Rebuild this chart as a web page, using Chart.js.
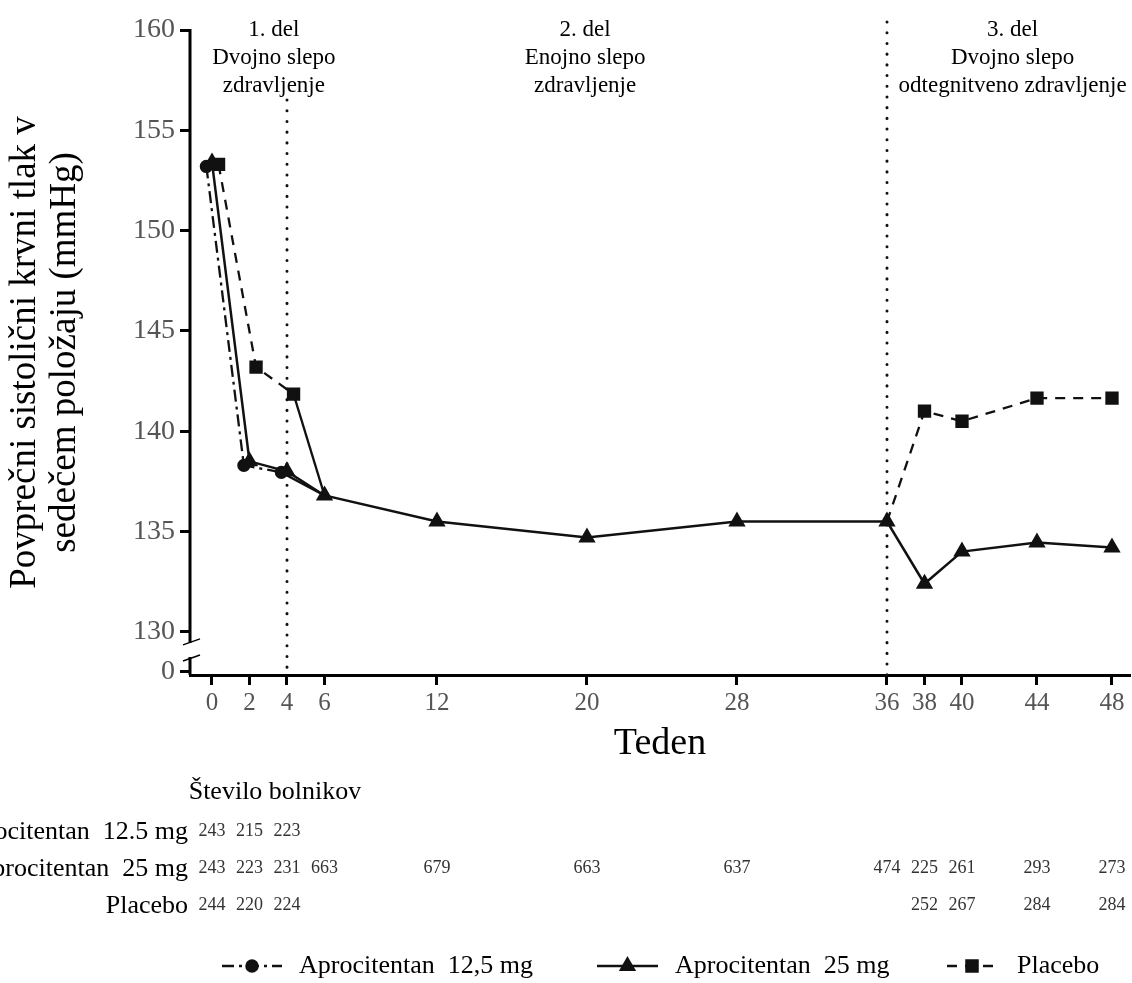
<!DOCTYPE html>
<html>
<head>
<meta charset="utf-8">
<script src="https://cdn.jsdelivr.net/npm/chart.js@4"></script>
<style>
html, body { margin: 0; padding: 0; background: #fff; overflow: hidden; }
canvas { display: block; }
</style>
</head>
<body>
<canvas id="myChart" width="1132" height="983"></canvas>
<script>
// podatki
const weeks = [0, 2, 4, 6, 12, 20, 28, 36, 38, 40, 44, 48];
const apro25 = [153.4, 138.5, 138.0, 136.8, 135.5, 134.7, 135.5, 135.5, 132.4, 134.0, 134.45, 134.2];
const apro125Weeks = [0, 2, 4];
const apro125 = [153.2, 138.3, 137.95];
const placeboWeeks = [0, 2, 4, 38, 40, 44, 48];
const placebo = [153.3, 143.2, 141.85, 141.0, 140.5, 141.65, 141.65];

const yTicks = [130, 135, 140, 145, 150, 155, 160];
const yBreak = 128; // tu stoji "0" pod prelomom osi
const partLines = [4, 36];

const parts = [
  {week: 3.3, lines: ["1. del", "Dvojno slepo", "zdravljenje"]},
  {week: 19.9, lines: ["2. del", "Enojno slepo", "zdravljenje"]},
  {week: 42.7, lines: ["3. del", "Dvojno slepo", "odtegnitveno zdravljenje"]}
];

// stevilo bolnikov
const tableTitle = "Število bolnikov";
const rowLabels = ["Aprocitentan  12.5 mg", "Aprocitentan  25 mg", "Placebo"];
const n125 = [243, 215, 223, null, null, null, null, null, null, null, null, null];
const n25 = [243, 223, 231, 663, 679, 663, 637, 474, 225, 261, 293, 273];
const nPlacebo = [244, 220, 224, null, null, null, null, null, 252, 267, 284, 284];

const legendLabels = ["Aprocitentan  12,5 mg", "Aprocitentan  25 mg", "Placebo"];

const FONT = "'Liberation Serif', 'DejaVu Serif', serif";
const dash125 = [12, 5, 3, 5];
const dashPlacebo = [10, 8];

// v 1. delu so tocke malo zamaknjene
const shift125 = -0.3;
const shiftPlacebo = 0.35;

var data125 = apro125Weeks.map((w, i) => ({x: w + shift125, y: apro125[i]}));
data125.push({x: weeks[3], y: apro25[3]});

var dataPlacebo = [];
for (let i = 0; i < 3; i++) dataPlacebo.push({x: placeboWeeks[i] + shiftPlacebo, y: placebo[i]});
dataPlacebo.push({x: weeks[3], y: apro25[3]});
dataPlacebo.push({x: 20, y: null});
dataPlacebo.push({x: weeks[7], y: apro25[7]});
for (let i = 3; i < placeboWeeks.length; i++) dataPlacebo.push({x: placeboWeeks[i], y: placebo[i]});

var data25 = weeks.map((w, i) => ({x: w, y: apro25[i]}));

const extraPlugin = {
  id: "extra",
  beforeDatasetsDraw(chart) {
    const ctx = chart.ctx, x = chart.scales.x, y = chart.scales.y;
    ctx.save();
    ctx.strokeStyle = "#111";
    ctx.lineWidth = 3;
    ctx.lineCap = "round";
    ctx.setLineDash([0.1, 10.6]);
    partLines.forEach((w, i) => {
      const px = x.getPixelForValue(w);
      ctx.beginPath();
      ctx.moveTo(px, i == 0 ? 100 : 22);
      ctx.lineTo(px, chart.chartArea.bottom);
      ctx.stroke();
    });
    ctx.restore();
  },
  afterDraw(chart) {
    const ctx = chart.ctx, x = chart.scales.x, y = chart.scales.y;
    const left = chart.chartArea.left;
    ctx.save();
    // y os s prelomom
    ctx.strokeStyle = "#000";
    ctx.lineWidth = 3;
    ctx.beginPath();
    ctx.moveTo(left, y.getPixelForValue(160) - 1);
    ctx.lineTo(left, y.getPixelForValue(129.45));
    ctx.moveTo(left, y.getPixelForValue(128.75));
    ctx.lineTo(left, chart.chartArea.bottom);
    ctx.stroke();
    ctx.lineWidth = 1.5;
    ctx.beginPath();
    let b1 = y.getPixelForValue(129.45), b2 = y.getPixelForValue(128.75);
    ctx.moveTo(left - 7, b1 + 2); ctx.lineTo(left + 10, b1 - 4);
    ctx.moveTo(left - 7, b2 + 4); ctx.lineTo(left + 10, b2 - 2);
    ctx.stroke();

    // oznake delov
    ctx.fillStyle = "#000";
    ctx.font = "23px " + FONT;
    ctx.textAlign = "center";
    ctx.textBaseline = "middle";
    parts.forEach(p => {
      p.lines.forEach((t, j) => ctx.fillText(t, x.getPixelForValue(p.week), 30 + j * 28));
    });

    // tabela
    ctx.font = "26px " + FONT;
    ctx.fillText(tableTitle, 275, 792);
    ctx.textAlign = "right";
    rowLabels.forEach((t, i) => ctx.fillText(t, 188, 832 + i * 37));
    ctx.textAlign = "center";
    ctx.font = "18px " + FONT;
    ctx.fillStyle = "#333";
    [n125, n25, nPlacebo].forEach((row, i) => {
      row.forEach((n, j) => {
        if (n != null) ctx.fillText(n, x.getPixelForValue(weeks[j]), 831 + i * 37);
      });
    });

    // legenda
    const ly = 966;
    const items = [
      {x1: 222, x2: 282, tx: 299, dash: dash125, style: "circle", r: 5.5},
      {x1: 597, x2: 658, tx: 675, dash: [], style: "triangle", r: 7.5},
      {x1: 947, x2: 997, tx: 1017, dash: dashPlacebo, style: "rect", r: 7.8}
    ];
    items.forEach((it, i) => {
      ctx.strokeStyle = "#111";
      ctx.lineWidth = 2.5;
      ctx.lineCap = "butt";
      ctx.setLineDash(it.dash);
      ctx.beginPath();
      ctx.moveTo(it.x1, ly);
      ctx.lineTo(it.x2, ly);
      ctx.stroke();
      ctx.setLineDash([]);
      ctx.fillStyle = "#111";
      Chart.helpers.drawPoint(ctx, {pointStyle: it.style, radius: it.r, borderWidth: 1}, (it.x1 + it.x2) / 2, ly);
      ctx.fillStyle = "#000";
      ctx.font = "26px " + FONT;
      ctx.textAlign = "left";
      ctx.fillText(legendLabels[i], it.tx, ly);
    });
    ctx.restore();
  }
};

var chart = new Chart("myChart", {
  type: "line",
  data: {
    datasets: [{
      label: legendLabels[2],
      data: dataPlacebo,
      borderColor: "#111",
      borderWidth: 2.3,
      pointStyle: "rect",
      pointRadius: ctx => (ctx.dataIndex == 3 || ctx.dataIndex == 5) ? 0 : 7.8,
      pointBackgroundColor: "#111",
      pointBorderColor: "#111",
      spanGaps: false,
      segment: {
        borderDash: ctx => ctx.p0DataIndex == 2 ? [] : dashPlacebo
      }
    }, {
      label: legendLabels[0],
      data: data125,
      borderColor: "#111",
      borderWidth: 2.3,
      pointStyle: "circle",
      pointRadius: ctx => ctx.dataIndex < 3 ? 5.5 : 0,
      pointBackgroundColor: "#111",
      pointBorderColor: "#111",
      segment: {
        borderDash: ctx => ctx.p0DataIndex >= 2 ? [] : dash125
      }
    }, {
      label: legendLabels[1],
      data: data25,
      borderColor: "#111",
      borderWidth: 2.5,
      pointStyle: "triangle",
      pointRadius: 7.5,
      pointBackgroundColor: "#111",
      pointBorderColor: "#111"
    }]
  },
  options: {
    responsive: false,
    animation: false,
    layout: {autoPadding: false, padding: {top: 30, right: 2, bottom: 213, left: 0}},
    plugins: {
      legend: {display: false},
      tooltip: {enabled: false}
    },
    elements: {line: {tension: 0}},
    scales: {
      x: {
        type: "linear",
        min: -1.173,
        max: 48.96,
        afterFit: s => { s.height = 95; },
        afterBuildTicks: s => { s.ticks = weeks.map(v => ({value: v})); },
        border: {display: true, color: "#000", width: 3},
        grid: {drawOnChartArea: false, drawTicks: true, tickLength: 10, tickWidth: 3, color: "#000"},
        ticks: {color: "#555", font: {family: FONT, size: 25}, padding: 3, maxRotation: 0, autoSkip: false},
        title: {display: true, text: "Teden", color: "#000", font: {family: FONT, size: 38, lineHeight: 1.2}, padding: {top: 0, bottom: 3}}
      },
      y: {
        type: "linear",
        min: 127.85,
        max: 160,
        afterFit: s => { s.width = 190; },
        afterBuildTicks: s => { s.ticks = [yBreak].concat(yTicks).map(v => ({value: v})); },
        border: {display: false},
        grid: {drawOnChartArea: false, drawTicks: true, tickLength: 10, tickWidth: 3, color: "#000"},
        ticks: {
          color: "#555",
          font: {family: FONT, size: 28},
          padding: 5,
          autoSkip: false,
          callback: v => v == yBreak ? "0" : v
        },
        title: {
          display: true,
          text: ["Povprečni sistolični krvni tlak v", "sedečem položaju (mmHg)"],
          color: "#000",
          font: {family: FONT, size: 37, lineHeight: 1.08},
          padding: {top: 5, bottom: 0}
        }
      }
    }
  },
  plugins: [extraPlugin]
});
</script>
</body>
</html>
